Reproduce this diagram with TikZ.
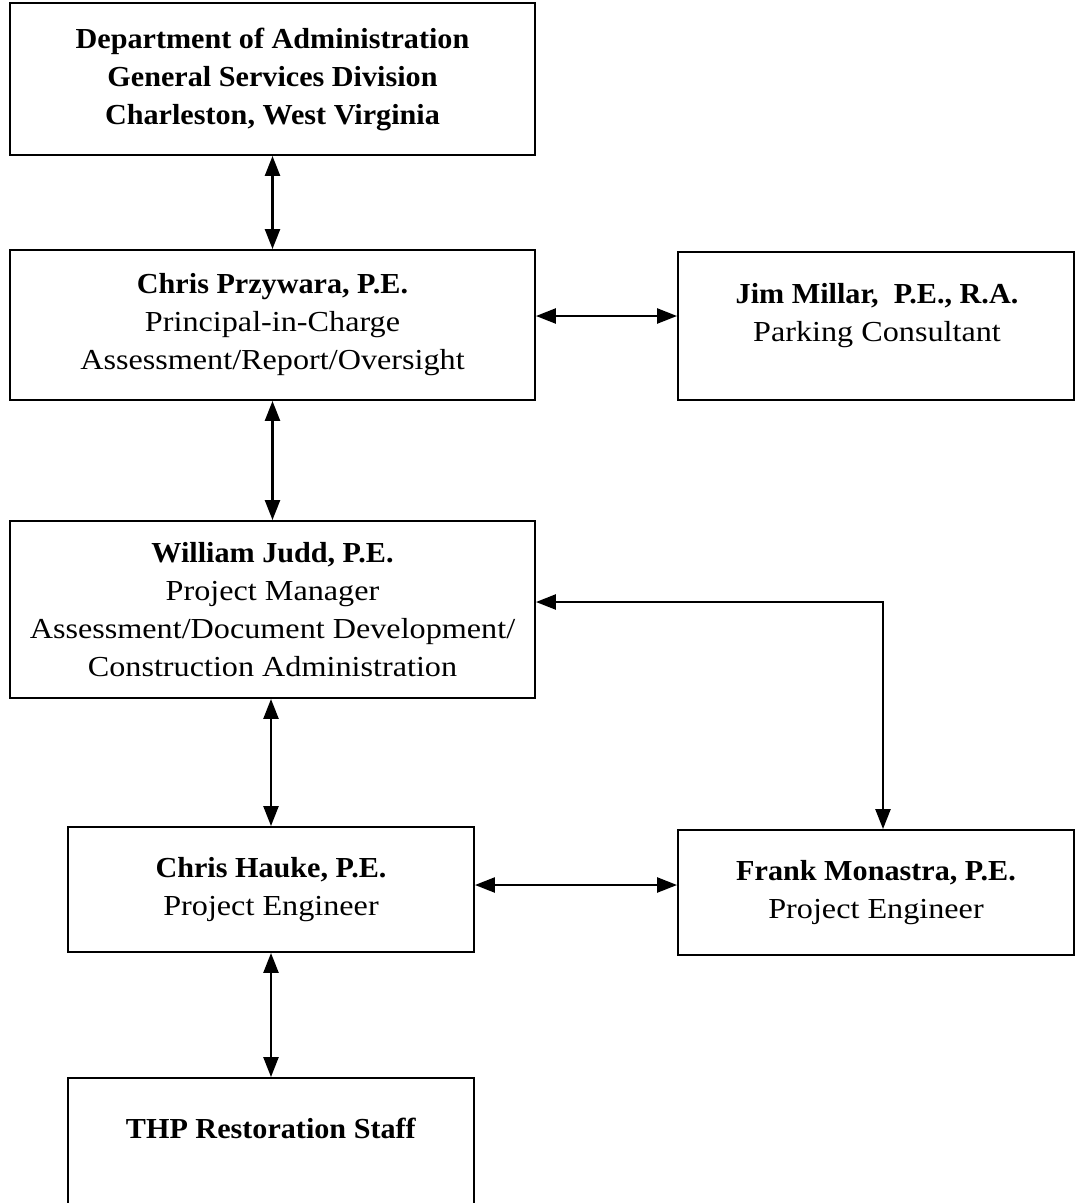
\documentclass[tikz,border=0pt]{standalone}
\usepackage{fontspec}
\setmainfont{Liberation Serif}[FakeStretch=1.11, BoldFeatures={FakeStretch=1.04}]
\usetikzlibrary{arrows.meta}
\begin{document}
\begin{tikzpicture}[x=1pt,y=-1pt,
  box/.style={draw, line width=1.9pt, inner sep=0pt, align=center,
    font=\fontsize{29}{38}\selectfont},
  txt/.style={inner sep=0pt, align=center, font=\fontsize{29}{38}\selectfont},
  link/.style={line width=2.4pt,
    {Triangle[length=20pt,width=15pt]}-{Triangle[length=20pt,width=15pt]}}]
\useasboundingbox (0,0) rectangle (1076,1203);
\clip (0,0) rectangle (1076,1203);
\fill[white] (0,0) rectangle (1076,1203);

\node[box, minimum width=525pt, minimum height=152pt] (b1) at (272.5,79)
  {\textbf{Department of Administration}\\\textbf{General Services Division}\\\textbf{Charleston, West Virginia}};
\node[box, minimum width=525pt, minimum height=150pt] (b2) at (272.5,325)
  {\textbf{Chris Przywara, P.E.}\\Principal-in-Charge\\Assessment/Report/Oversight};
\node[box, minimum width=396pt, minimum height=148pt] (b3) at (876,326) {};
\node[txt] (t3) at (877,316) {\textbf{Jim Millar,\ \ P.E., R.A.}\\Parking Consultant};
\node[box, minimum width=525pt, minimum height=177pt] (b4) at (272.5,609.5)
  {\textbf{William Judd, P.E.}\\Project Manager\\Assessment/Document Development/\\Construction Administration};
\node[box, minimum width=406pt, minimum height=125pt] (b5) at (271,889.5)
  {\textbf{Chris Hauke, P.E.}\\Project Engineer};
\node[box, minimum width=396pt, minimum height=125pt] (b6) at (876,892.5)
  {\textbf{Frank Monastra, P.E.}\\Project Engineer};
\node[box, minimum width=406pt, minimum height=130pt] (b7) at (271,1143) {};
\node[txt] (t7) at (271,1128) {\textbf{THP Restoration Staff}};

\draw[link] (b1.south) -- (b2.north);
\draw[link] ([yshift=9pt]b2.east) -- ([yshift=9pt]b2.east -| b3.west);
\draw[link] (b2.south) -- (b4.north);
\draw[link] ([yshift=7.5pt]b4.east) -| ([xshift=7pt]b6.north);
\draw[link] (b5.north |- b4.south) -- (b5.north);
\draw[link] ([yshift=4.5pt]b5.east) -- ([yshift=4.5pt]b5.east -| b6.west);
\draw[link] (b5.south) -- (b7.north);
\end{tikzpicture}
\end{document}
